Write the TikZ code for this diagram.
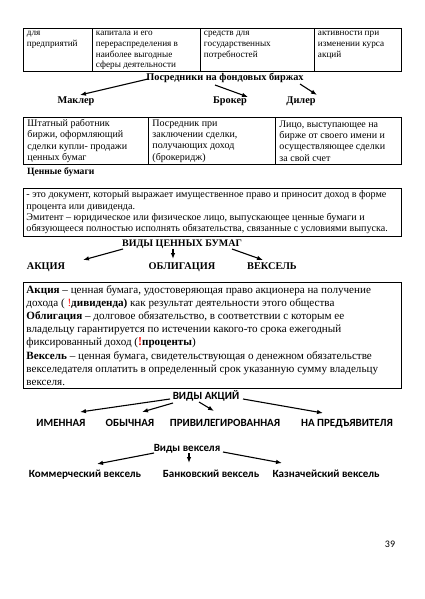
\documentclass[tikz,border=0pt]{standalone}
\usepackage{fontspec}
\setmainfont{Liberation Serif}[Ligatures=TeX]
\newfontfamily\calfont{Carlito}
\usetikzlibrary{arrows.meta,calc}
\newcommand{\mycell}[3]{\parbox[c][#2][c]{#1}{\raggedright #3}}
\newcommand{\mytopcell}[3]{\parbox[c][#2][t]{#1}{\raggedright\rule{0pt}{6.4pt}#3}}
\begin{document}
\begin{tikzpicture}[x=1pt,y=-1pt,
  cell/.style={draw,line width=0.9pt,anchor=north west,inner sep=0pt},
  tone/.style={font=\fontsize{9.2}{10.7}\selectfont},
  ttwo/.style={font=\fontsize{10}{11.3}\selectfont},
  sbold/.style={font=\bfseries\fontsize{10.3}{12}\selectfont,inner sep=0pt,anchor=base},
  cbold/.style={font=\calfont\bfseries\fontsize{11}{12}\selectfont,inner sep=0pt,anchor=base},
  arr/.style={line width=1.1pt,-{Latex[length=6pt,width=4.5pt]}}]
\useasboundingbox (0,0) rectangle (424,599);
% table 1
\node[cell,tone,minimum width=69pt,minimum height=43pt] (a1) at (23,28) {\mytopcell{62pt}{41pt}{для\\предприятий}};
\node[cell,tone,minimum width=108pt,minimum height=43pt] (a2) at (92,28) {\mytopcell{101pt}{41pt}{капитала и его\\перераспределения в\\наиболее выгодные\\сферы деятельности}};
\node[cell,tone,minimum width=114pt,minimum height=43pt] (a3) at (200,28) {\mytopcell{107pt}{41pt}{средств для\\государственных\\потребностей}};
\node[cell,tone,minimum width=87pt,minimum height=43pt] (a4) at (314,28) {\mytopcell{80pt}{41pt}{активности при\\изменении курса\\акций}};
% intermediaries
\node[sbold] (posr) at (225,81) {Посредники на фондовых биржах};
\node[sbold] (makler) at (76,104) {Маклер};
\node[sbold] (broker) at (230,104) {Брокер};
\node[sbold] (diler) at (301,104) {Дилер};
\draw[arr] ($(posr.base)+(-77,-2)$) -- ($(makler.base)+(4,-9)$);
\draw[arr] ($(posr.base)+(-10,4)$) -- ($(broker.base)+(18,-7)$);
\draw[arr] ($(posr.base)+(75,3)$) -- ($(diler.base)+(16,-9)$);
% table 2
\node[cell,ttwo,minimum width=125pt,minimum height=47pt] (b1) at (23,117) {\mycell{117pt}{45pt}{Штатный работник\\биржи, оформляющий\\сделки купли- продажи\\ценных бумаг}};
\node[cell,ttwo,minimum width=127pt,minimum height=47pt] (b2) at (148,117) {\mycell{119pt}{45pt}{Посредник при\\заключении сделки,\\получающих доход\\(брокеридж)}};
\node[cell,ttwo,minimum width=126pt,minimum height=47pt] (b3) at (275,117) {\mycell{118pt}{45pt}{Лицо, выступающее на\\бирже от своего имени и\\осуществляющее сделки\\за свой счет}};
\node[sbold,font=\bfseries\fontsize{9.6}{11}\selectfont,anchor=base west] (cb) at (27,174) {Ценные бумаги};
% box 3
\node[cell,font=\fontsize{10.1}{11.3}\selectfont,minimum width=378pt,minimum height=48pt] (c1) at (23,188) {\mycell{372pt}{46pt}{- это документ, который выражает имущественное право и приносит доход в форме\\процента или дивиденда.\\Эмитент – юридическое или физическое лицо, выпускающее ценные бумаги и\\обязующееся полностью исполнять обязательства, связанные с условиями выпуска.}};
% kinds of securities
\node[sbold,font=\bfseries\fontsize{10}{12}\selectfont] (vidy) at (182,246) {ВИДЫ ЦЕННЫХ БУМАГ};
\node[sbold] (akc) at (46,269) {АКЦИЯ};
\node[sbold] (obl) at (182,269) {ОБЛИГАЦИЯ};
\node[sbold] (veks) at (272,269) {ВЕКСЕЛЬ};
\draw[arr] ($(vidy.base)+(-59,3)$) -- ($(akc.base)+(37,-9)$);
\draw[arr] ($(vidy.base)+(-9,3)$) -- ($(obl.base)+(-9,-10)$);
\draw[arr] ($(vidy.base)+(50,3)$) -- ($(veks.base)+(-9,-9)$);
% box 4
\node[cell,font=\fontsize{11.1}{13.2}\selectfont,minimum width=378pt,minimum height=106pt] (d1) at (23,282) {\mycell{372pt}{104pt}{\textbf{Акция} – ценная бумага, удостоверяющая право акционера на получение\\дохода ( {\color{red}!}\textbf{дивиденда)} как результат деятельности этого общества\\\textbf{Облигация} – долговое обязательство, в соответствии с которым ее\\владельцу гарантируется по истечении какого-то срока ежегодный\\фиксированный доход ({\color{red}\bfseries\large !}\textbf{проценты})\\\textbf{Вексель} – ценная бумага, свидетельствующая о денежном обязательстве\\векселедателя оплатить в определенный срок указанную сумму владельцу\\векселя.}};
% kinds of shares
\node[cbold] (vidyA) at (206,399) {ВИДЫ АКЦИЙ};
\node[cbold] (imen) at (61,426) {ИМЕННАЯ};
\node[cbold] (obych) at (130,426) {ОБЫЧНАЯ};
\node[cbold] (priv) at (225,426) {ПРИВИЛЕГИРОВАННАЯ};
\node[cbold] (napred) at (347,426) {НА ПРЕДЪЯВИТЕЛЯ};
\draw[arr] ($(vidyA.base)+(-36,0)$) -- ($(imen.base)+(19,-14)$);
\draw[arr] ($(vidyA.base)+(-33,4)$) -- ($(obych.base)+(12,-14)$);
\draw[arr] ($(vidyA.base)+(-7,3)$) -- ($(priv.base)+(-11,-15)$);
\draw[arr] ($(vidyA.base)+(37,0)$) -- ($(napred.base)+(-24,-13)$);
% kinds of bills
\node[cbold] (vidyV) at (187,451) {Виды векселя};
\node[cbold] (kom) at (85,477) {Коммерческий вексель};
\node[cbold] (bank) at (211,477) {Банковский вексель};
\node[cbold] (kazn) at (326,477) {Казначейский вексель};
\draw[arr] ($(vidyV.base)+(-33,2)$) -- ($(kom.base)+(12,-13)$);
\draw[arr] ($(vidyV.base)+(2,2)$) -- ($(bank.base)+(-22,-14)$);
\draw[arr] ($(vidyV.base)+(36,1)$) -- ($(kazn.base)+(-44,-14)$);
% page number
\node[font=\calfont\fontsize{10}{12}\selectfont,inner sep=0pt,anchor=base] (pg) at (390,547) {39};
\end{tikzpicture}
\end{document}
